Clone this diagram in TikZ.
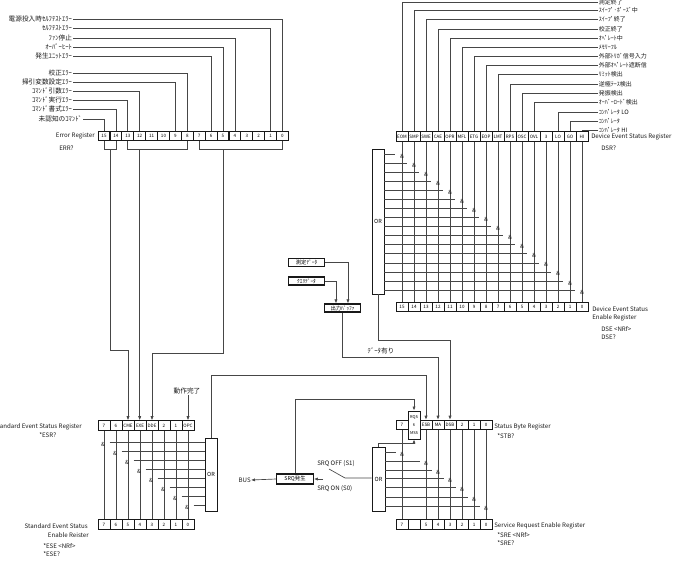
\documentclass[tikz,border=0pt]{standalone}
\usepackage{fontspec}
\setmainfont{Noto Sans CJK JP}
\usetikzlibrary{arrows.meta,positioning,calc}
\definecolor{ink}{RGB}{25,25,25}
\definecolor{wiregray}{RGB}{70,70,70}

\tikzset{
  bitcell/.style={draw=ink,line width=0.7pt,minimum width=9pt,minimum height=7.2pt,
    inner sep=0pt,font=\fontsize{3.4}{4}\selectfont},
  wire/.style={draw=wiregray,line width=0.5pt},
  feed/.style={wire,-{Latex[length=3pt,width=2.4pt]}},
  evlabel/.style={font=\fontsize{5}{6}\selectfont,inner sep=0.5pt,text=ink},
  devlabel/.style={font=\fontsize{4.5}{5.5}\selectfont,inner sep=0.5pt,text=ink},
  reglabel/.style={font=\fontsize{4.6}{5.5}\selectfont,inner sep=0pt,text=ink},
  orbox/.style={draw=ink,line width=0.6pt,minimum width=9pt,inner sep=0pt,
    font=\fontsize{4.2}{5}\selectfont},
  andsign/.style={font=\fontsize{4.2}{5}\selectfont,inner sep=0.4pt,text=ink},
  databox/.style={draw=ink,line width=0.9pt,minimum width=27.5pt,minimum height=6pt,
    inner sep=0pt,font=\fontsize{4}{5}\selectfont}
}

\begin{document}
\begin{tikzpicture}[x=0.75pt,y=-0.75pt]
\useasboundingbox (0,0) rectangle (673,566);

% --- registers ---
\foreach \b in {15,...,0}
  \node[bitcell] (err\b) at ({104+11.9*(15-\b)},136) {\b};
\node[reglabel,anchor=east] at (95,136) {Error Register};
\node[reglabel,anchor=west] at (59,148) {ERR?};

\foreach \b/\t in {15/EOM,14/SMP,13/SWE,12/CAE,11/OPR,10/MFL,9/ETG,8/EOP,
    7/LMT,6/RPS,5/OSC,4/OVL,3/3,2/LO,1/GO,0/HI}
  \node[bitcell] (dsr\b) at ({402+12*(15-\b)},136.5) {\t};
\foreach \b in {15,...,0}
  \node[bitcell] (dse\b) at ({402+12*(15-\b)},307) {\b};
\node[reglabel,anchor=west] at (591,137) {Device Event Status Register};
\node[reglabel,anchor=west] at (601,148) {DSR?};
\node[reglabel,anchor=west] at (592,309) {Device Event Status};
\node[reglabel,anchor=west] at (592,318) {Enable Register};
\node[reglabel,anchor=west] at (601,329) {DSE \textless NRf\textgreater};
\node[reglabel,anchor=west] at (601,337) {DSE?};

\foreach \b/\t in {7/7,6/6,5/CME,4/EXE,3/DDE,2/2,1/1,0/OPC}
  \node[bitcell] (esr\b) at ({104+12*(7-\b)},425.5) {\t};
\foreach \b in {7,...,0}
  \node[bitcell] (ese\b) at ({104+12*(7-\b)},524.5) {\b};
\node[reglabel,anchor=east] at (82,427) {Standard Event Status Register};
\node[reglabel,anchor=west] at (39,435) {*ESR?};
\node[reglabel,anchor=east] at (88,526) {Standard Event Status};
\node[reglabel,anchor=east] at (89,535) {Enable Reister};
\node[reglabel,anchor=west] at (43,546) {*ESE \textless NRf\textgreater};
\node[reglabel,anchor=west] at (43,554) {*ESE?};

\foreach \b/\t in {7/7,5/ESB,4/MA,3/DSB,2/2,1/1,0/0}
  \node[bitcell] (sbr\b) at ({402+12*(7-\b)},425) {\t};
\node[bitcell,minimum height=21pt,fill=white,align=center,
  font=\fontsize{3}{3.6}\selectfont] (rqs) at (414,425) {RQS\\[2.2pt]6\\[2.2pt]MSS};
\foreach \b/\t in {7/7,6/{},5/5,4/4,3/3,2/2,1/1,0/0}
  \node[bitcell] (sre\b) at ({402+12*(7-\b)},524.5) {\t};
\node[reglabel,anchor=west] at (494,427) {Status Byte Register};
\node[reglabel,anchor=west] at (497,436) {*STB?};
\node[reglabel,anchor=west] at (494,526) {Service Request Enable Register};
\node[reglabel,anchor=west] at (497,535) {*SRE \textless NRf\textgreater};
\node[reglabel,anchor=west] at (497,543) {*SRE?};

% --- gates and boxes ---
\node[orbox,minimum height=108.75pt] (dor) at (378,221.5) {OR};
\node[orbox,minimum height=54.75pt] (eor) at (211,474.5) {OR};
\node[orbox,minimum height=48pt,minimum width=9.75pt] (sor) at (378.5,479) {OR};

\node[databox] (meas) at (306.5,262.5) {測定ﾃﾞｰﾀ};
\node[databox] (query) at (306.5,281) {ｸｴﾘﾃﾞｰﾀ};
\node[databox] (obuf) at (342.5,308) {出力ﾊﾞｯﾌｧ};
\node[databox,minimum height=7.5pt] (srq) at (295,479) {SRQ発生};
\node[reglabel,anchor=east] (bus) at (251,480) {BUS};

% --- error sources ---
\foreach \b/\x/\y/\t in {0/73/19/電源投入時ｾﾙﾌﾃｽﾄｴﾗｰ,1/73/28/ｾﾙﾌﾃｽﾄｴﾗｰ,4/73/38/ﾌｧﾝ停止,
    5/73/47/ｵｰﾊﾞｰﾋｰﾄ,6/73/56/発生ﾕﾆｯﾄｴﾗｰ,8/73/73/校正ｴﾗｰ,9/73/82/掃引変数設定ｴﾗｰ,
    12/73/91/ｺﾏﾝﾄﾞ引数ｴﾗｰ,13/73/100/ｺﾏﾝﾄﾞ実行ｴﾗｰ,14/73/109/ｺﾏﾝﾄﾞ書式ｴﾗｰ,
    15/83/119/未認知のｺﾏﾝﾄﾞ}{
  \node[evlabel,anchor=east] (es\b) at (\x,\y) {\t};
  \draw[wire] (es\b.east) -| (err\b.north);
}

% --- device events ---
\foreach \b/\y/\t in {15/2/測定終了,14/10/ｽｲｰﾌﾟ･ﾎﾟｰｽﾞ中,13/19/ｽｲｰﾌﾟ終了,12/29/校正終了,
    11/38/ｵﾍﾟﾚｰﾄ中,10/47/ﾒﾓﾘｰﾌﾙ,9/56/外部ﾄﾘｶﾞ信号入力,8/65/外部ｵﾍﾟﾚｰﾄ遮断信,
    7/74/ﾘﾐｯﾄ検出,6/84/逆極ﾃｰｽ検出,5/93/発振検出,4/102/ｵｰﾊﾞｰﾛｰﾄﾞ検出,
    2/112/ｺﾝﾊﾟﾚｰﾀ LO,1/121/ｺﾝﾊﾟﾚｰﾀ,0/130/ｺﾝﾊﾟﾚｰﾀ HI}{
  \node[devlabel,anchor=west] (dv\b) at (598,\y) {\t};
  \draw[wire] (dv\b.west) -| (dsr\b.north);
}

% device enable: one AND per bit into the OR
\foreach \b in {15,...,0}{
  \draw[wire] (dsr\b.south) -- (dse\b.north);
  \node[andsign] (dand\b) at ({402+12*(15-\b)},{156+9.07*(15-\b)}) {\&};
  \coordinate (drow\b) at ([xshift=-3pt,yshift=1.5pt]dand\b.west);
  \draw[wire] (drow\b -| dor.east) -- (drow\b);
}

% standard event enable
\foreach \b in {7,...,0}{
  \draw[wire] (esr\b.south) -- (ese\b.north);
  \node[andsign] (eand\b) at ({103+12*(7-\b)},{444+9.1*(7-\b)}) {\&};
  \coordinate (erow\b) at ([xshift=3pt,yshift=1.5pt]eand\b.east);
  \draw[wire] (erow\b) -- (erow\b -| eor.west);
}

% service request enable (bit 6 has no AND)
\foreach \b/\y in {7/452,5/461,4/470,3/478,2/487,1/497,0/506}{
  \draw[wire] (sbr\b.south) -- (sre\b.north);
  \node[andsign] (sand\b) at ({402+12*(7-\b)},{\y+2.5}) {\&};
  \coordinate (srow\b) at ([xshift=-2.5pt,yshift=1.5pt]sand\b.west);
  \draw[wire] (srow\b -| sor.east) -- (srow\b);
}

% --- error register summary into ESR ---
\draw[wire] (err15.south) -- ++(0,8) -| (err14.south);
\draw[wire] (err13.south) -- ++(0,8) -| (err8.south);
\draw[wire] (err7.south) -- ++(0,8) -| (err0.south);
\coordinate (cmeknee) at (esr5.north |- 0,350);
\coordinate (ddeknee) at (esr3.north |- 0,353);
\draw[feed] ($(err15.south)!.5!(err14.south)+(0,8)$) |- (cmeknee) -- (esr5.north);
\draw[feed] ([yshift=-6pt]err12.south) -- (err12.south |- esr4.north);
\draw[feed] ([yshift=-6pt]err5.south) |- (ddeknee) -- (esr3.north);

\node[evlabel] (opcsrc) at (187,391) {動作完了};
\draw[feed] (esr0.north |- opcsrc.south) -- (esr0.north);

% --- summaries into the status byte ---
\coordinate (esbknee) at (sbr5.north |- 0,375);
\coordinate (maknee) at (sbr4.north |- 0,357);
\coordinate (dsbknee) at (sbr3.north |- 0,340);
\draw[feed] (eor.north) |- (esbknee) -- (sbr5.north);
\draw[feed] (obuf.south) |- (maknee) -- (sbr4.north);
\draw[feed] (dor.south) |- (dsbknee) -- (sbr3.north);
\node[evlabel] at (381,351) {ﾃﾞｰﾀ有り};

\draw[feed] (meas.east) -| ([xshift=4.1pt]obuf.north);
\draw[feed] (query.east) -| ([xshift=-4.9pt]obuf.north);

% --- service request ---
\coordinate (rqsknee) at (rqs.north |- 0,399);
\coordinate (mssknee) at (rqs.south |- 0,443);
\draw[feed] (srq.north) |- (rqsknee) -- (rqs.north);
\draw[feed] (sor.north) |- (mssknee) -- (rqs.south);

\coordinate (swpivot) at (345,478);
\coordinate (swtip) at (329,469);
\coordinate (swin) at (323,479);
\draw[wire] (sor.west |- swpivot) -- (swpivot) -- (swtip);
\draw[feed] (swin) -- (srq.east);
\draw[feed] (srq.west) -- (bus.east);
\node[reglabel,anchor=west] at (317,464) {SRQ OFF (S1)};
\node[reglabel,anchor=west] at (317,489) {SRQ ON (S0)};

\end{tikzpicture}
\end{document}
